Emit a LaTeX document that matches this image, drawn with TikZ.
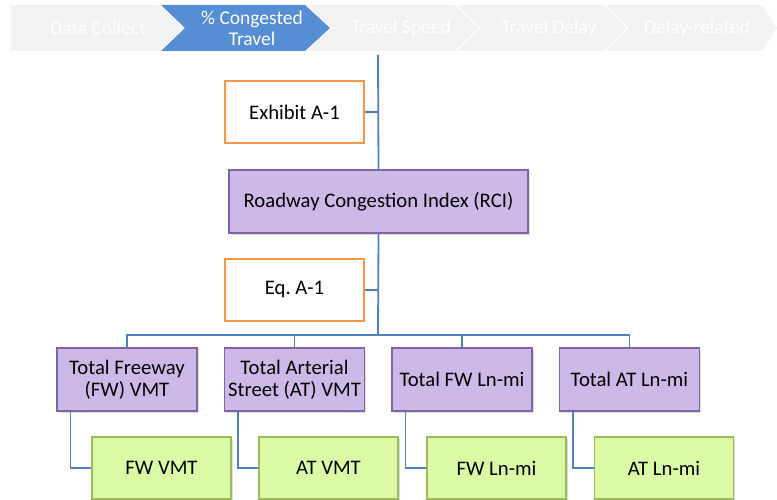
\documentclass[tikz,border=0pt]{standalone}
\usepackage{fontspec}
\setmainfont{Carlito}
\usepackage{tikz}
\usetikzlibrary{shadows}
\frenchspacing
\definecolor{linkblue}{HTML}{4F81BD}
\definecolor{chevgray}{HTML}{F2F2F2}
\definecolor{chevblue}{HTML}{558ED5}
\definecolor{purplefill}{HTML}{CCB9E8}
\definecolor{purpleline}{HTML}{8064A2}
\definecolor{greenfill}{HTML}{DBFAA6}
\definecolor{greenline}{HTML}{9BBB59}
\definecolor{orangeline}{HTML}{F79646}
\tikzstyle{Ref}=[rectangle, minimum width=139, minimum height=62, text centered, draw=orangeline, line width=1.6pt, fill=white]
\tikzstyle{Measure}=[rectangle, minimum width=140, minimum height=63, align=center, draw=purpleline, line width=1.2pt, fill=purplefill, drop shadow={shadow xshift=1.5pt, shadow yshift=-1.5pt, opacity=0.25}]
\tikzstyle{Source}=[rectangle, minimum width=139, minimum height=62, text centered, draw=greenline, line width=1.2pt, fill=greenfill, drop shadow={shadow xshift=1.5pt, shadow yshift=-1.5pt, opacity=0.25}]
\tikzstyle{Link}=[draw=linkblue, line width=1.8pt]
\tikzstyle{Step}=[text=white, align=center, font=\fontsize{19.5}{21}\selectfont]

\begin{document}
\begin{tikzpicture}[x=1pt, y=-1pt, font=\fontsize{20.7}{21.5}\selectfont]
    \useasboundingbox (0,0) rectangle (777,500);
    \clip (0,0) rectangle (777,500);

    % step bar
    \fill[chevgray] (11,5) -- (159,5) -- (183,28) -- (159,51) -- (11,51) -- cycle;
    \fill[chevgray] (307,5) -- (455,5) -- (479,28) -- (455,51) -- (307,51) -- (331,28) -- cycle;
    \fill[chevgray] (457,5) -- (603,5) -- (627,28) -- (603,51) -- (457,51) -- (481,28) -- cycle;
    \fill[chevgray] (605,5) -- (762,5) -- (777,28) -- (762,51) -- (605,51) -- (629,28) -- cycle;
    \fill[chevblue] (161,5) -- (305,5) -- (330,28) -- (305,51) -- (161,51) -- (185,28) -- cycle;
    \path
    (98,28) node[Step] (collect) {Data Collect}
    (252,28) node[Step] (congested) {\% Congested\\Travel}
    (401,28) node[Step] (speed) {Travel Speed}
    (549,28) node[Step] (delay) {Travel Delay}
    (697,28) node[Step] (related) {Delay-related};

    \path
    (378,55) coordinate (top)
    (294.5,112) node[Ref] (exhibit) {Exhibit A-1}
    (378.5,201.5) node[Measure, minimum width=299] (rci) {Roadway Congestion Index (RCI)}
    (294.5,290) node[Ref] (eq) {Eq. A-1}
    (378,335) coordinate (bus)
    (127,379.5) node[Measure] (tfwvmt) {Total Freeway\\(FW) VMT}
    (294.5,379.5) node[Measure] (tatvmt) {Total Arterial\\Street (AT) VMT}
    (462,379.5) node[Measure] (tfwlnmi) {Total FW Ln-mi}
    (629.5,379.5) node[Measure] (tatlnmi) {Total AT Ln-mi}
    (161.5,468) node[Source] (fwvmt) {FW VMT}
    (328.5,468) node[Source] (atvmt) {AT VMT}
    (496.5,468) node[Source] (fwlnmi) {FW Ln-mi}
    (664,468) node[Source] (atlnmi) {AT Ln-mi};

    \draw[Link] (top) -- (rci.north);
    \draw[Link] (exhibit.east) -- (exhibit.east -| top);
    \draw[Link] (rci.south) -- (bus);
    \draw[Link] (eq.east) -- (eq.east -| top);
    \draw[Link] (bus) -| (tfwvmt.north);
    \draw[Link] (bus) -| (tatvmt.north);
    \draw[Link] (bus) -| (tfwlnmi.north);
    \draw[Link] (bus) -| (tatlnmi.north);
    \draw[Link] ([xshift=14pt]tfwvmt.south west) |- (fwvmt.west);
    \draw[Link] ([xshift=14pt]tatvmt.south west) |- (atvmt.west);
    \draw[Link] ([xshift=14pt]tfwlnmi.south west) |- (fwlnmi.west);
    \draw[Link] ([xshift=14pt]tatlnmi.south west) |- (atlnmi.west);
\end{tikzpicture}
\end{document}
